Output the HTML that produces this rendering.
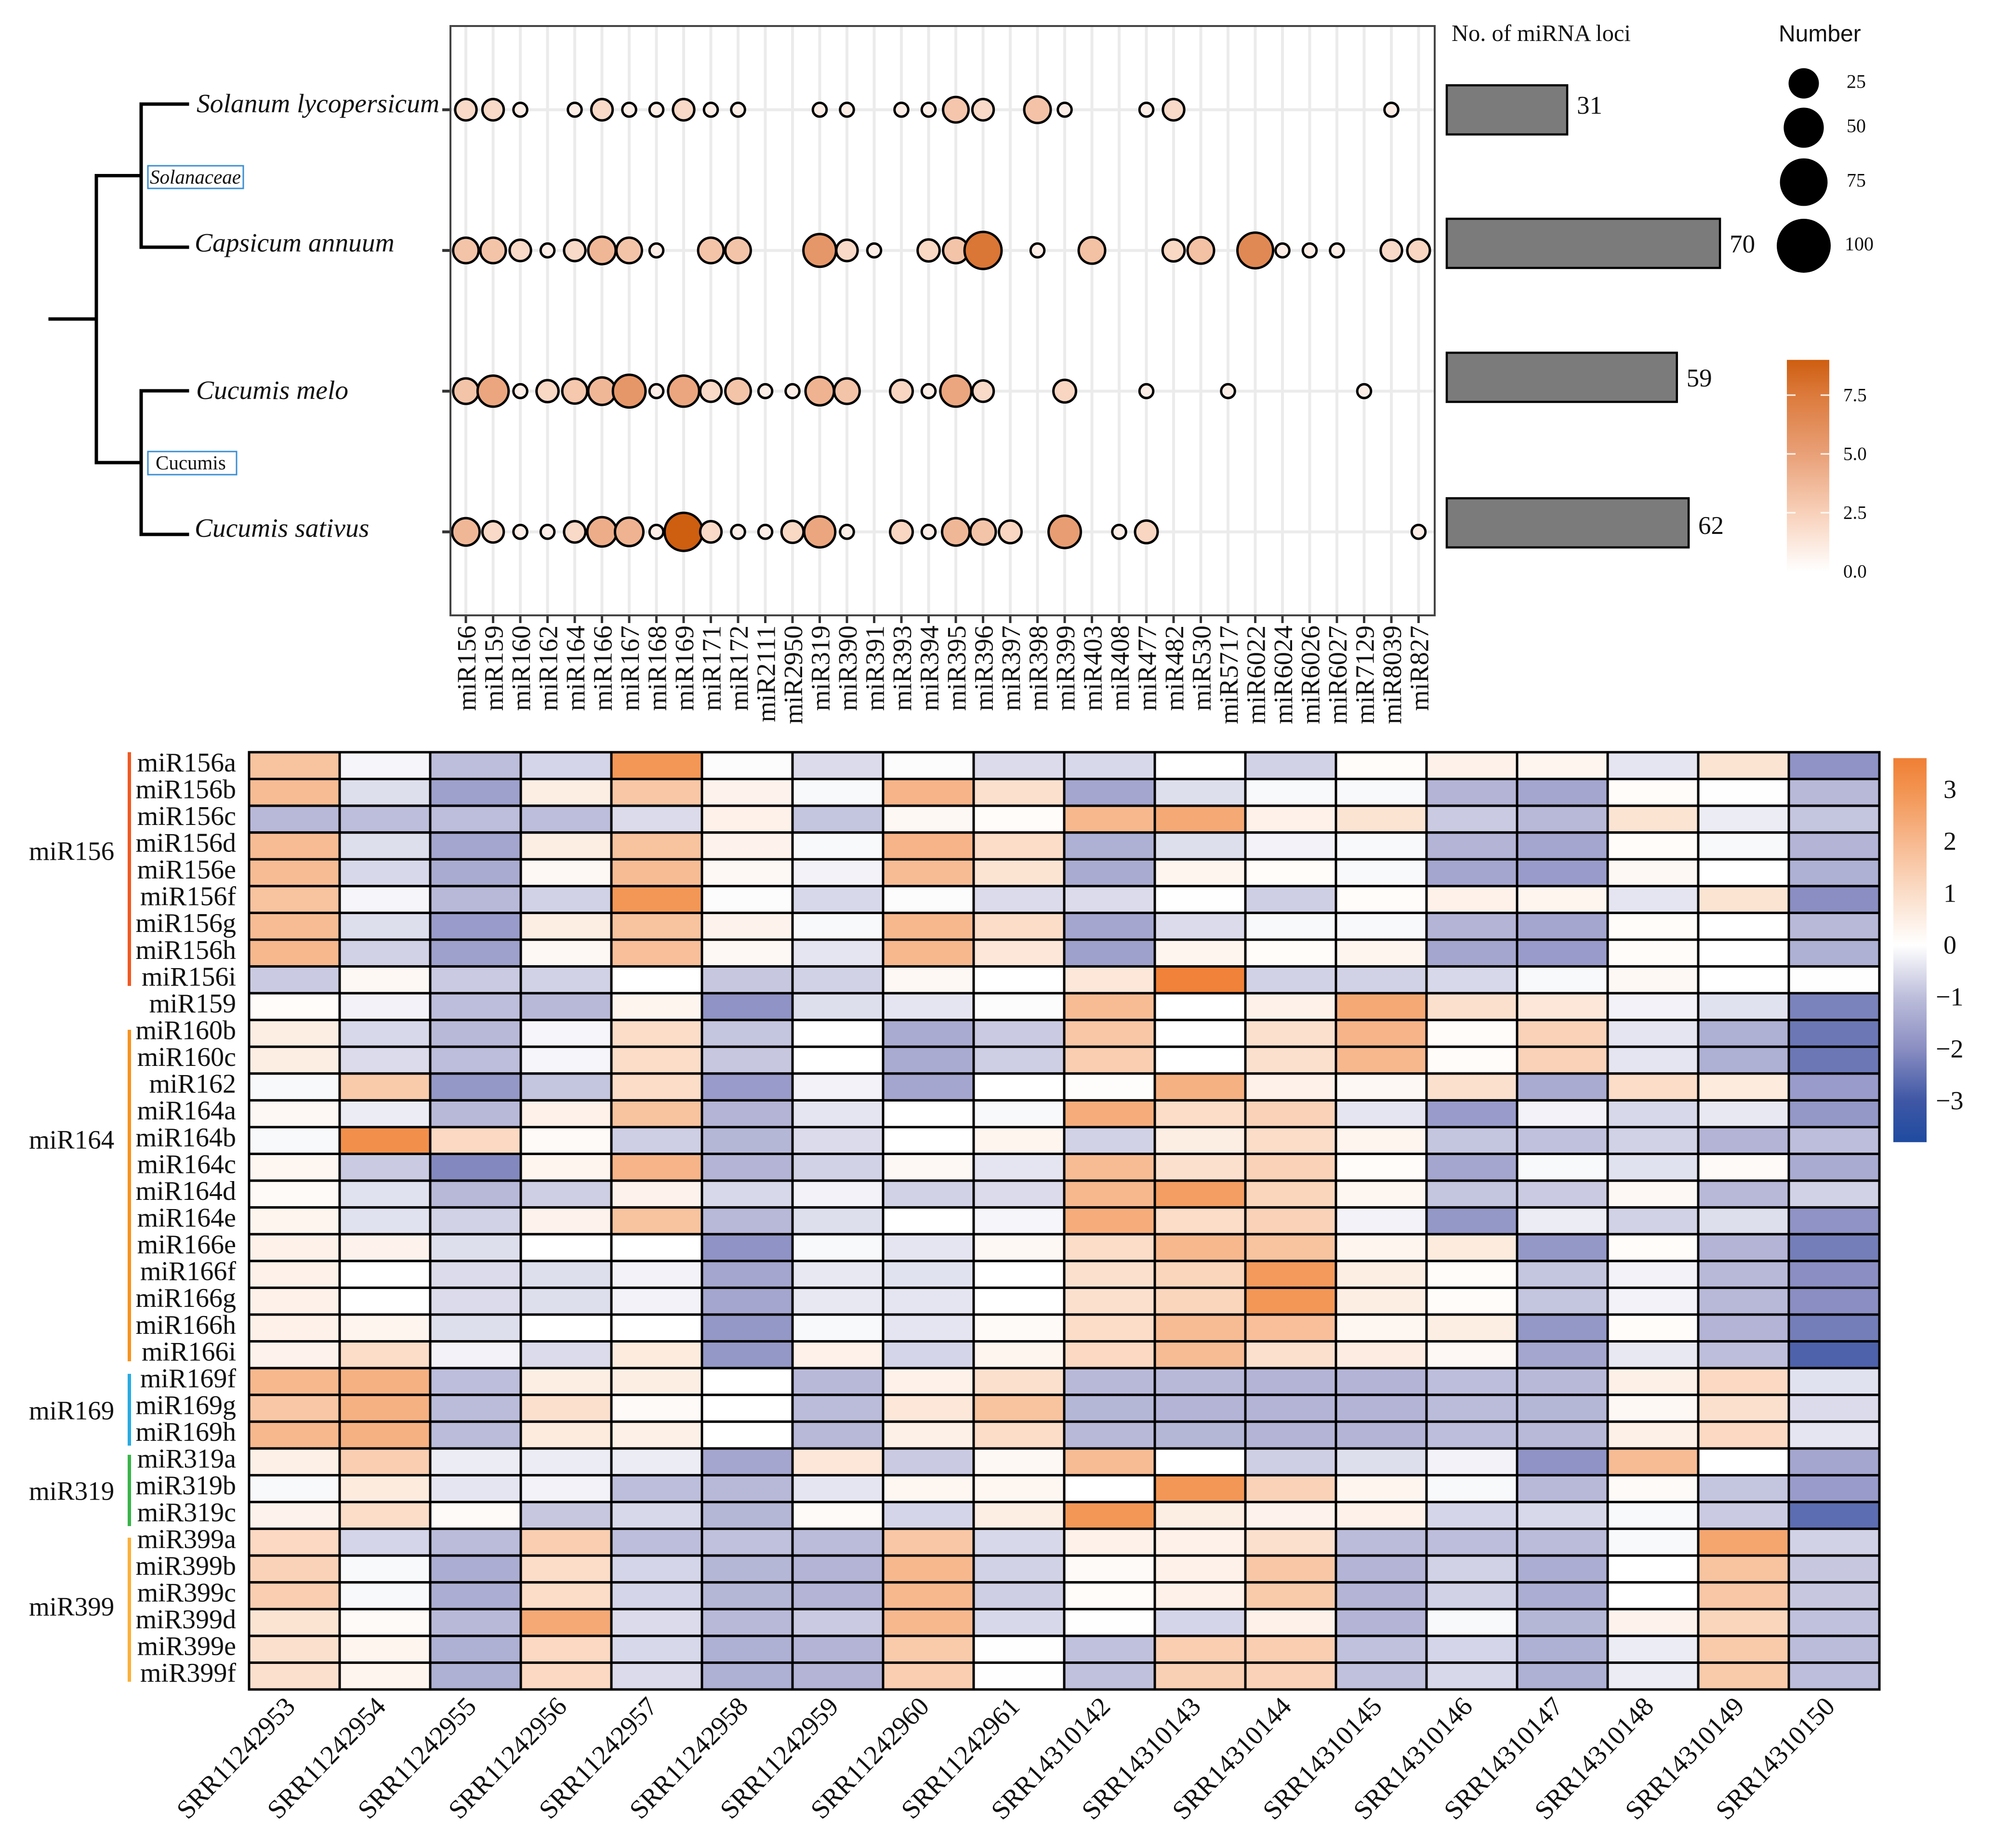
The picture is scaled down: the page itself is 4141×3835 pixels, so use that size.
<!DOCTYPE html>
<html lang="en">
<head>
<meta charset="utf-8">
<title>miRNA family distribution and expression heatmap</title>
<style>
html,body{margin:0;padding:0;background:#fff;}
svg{display:block;}
text{font-family:"Liberation Serif",serif;fill:#111;}
</style>
</head>
<body>
<svg id="figure" xmlns="http://www.w3.org/2000/svg" width="4141" height="3835" viewBox="0 0 4141 3835">
  <defs id="gradient-defs"></defs>
  <rect x="0" y="0" width="4141" height="3835" fill="#fff"/>
  <g id="tree" stroke="#000" stroke-width="7" fill="none" stroke-linecap="square">
    <path d="M104 662H200"/>
    <path d="M200 364.500V960"/>
    <path d="M200 364.500H293M293 216V513M293 216H389M293 513H389"/>
    <path d="M200 960H293M293 811V1109M293 811H389M293 1109H389"/>
  </g>
  <text x="408" y="233" font-size="55.500" font-style="italic">Solanum lycopersicum</text>
  <text x="404" y="522" font-size="55.500" font-style="italic">Capsicum annuum</text>
  <text x="407" y="828" font-size="55.500" font-style="italic">Cucumis melo</text>
  <text x="404" y="1114" font-size="55.500" font-style="italic">Cucumis sativus</text>
  <rect x="307" y="344" width="198" height="47" fill="#fff" stroke="#3B8FD3" stroke-width="3"/>
  <text x="311" y="381" font-size="41" font-style="italic">Solanaceae</text>
  <rect x="307" y="937" width="184" height="48" fill="#fff" stroke="#3B8FD3" stroke-width="3"/>
  <text x="323" y="974" font-size="41">Cucumis</text>
  <g id="bubble-panel"></g>
  <rect x="935" y="54" width="2043" height="1223" fill="none" stroke="#444" stroke-width="4"/>
  <g id="bars"></g>
  <text x="3013" y="85" font-size="48.500">No. of miRNA loci</text>
  <text x="3692" y="86" font-size="48" style="font-family:'Liberation Sans',sans-serif">Number</text>
  <g id="size-legend"></g>
  <g id="bubble-colorbar"></g>
  <g id="heatmap"></g>
  <g id="heat-colorbar"></g>
</svg>
<script>
// ---- bubble chart data ----
const miRnaFamilies = ["miR156","miR159","miR160","miR162","miR164","miR166","miR167","miR168","miR169","miR171","miR172","miR2111","miR2950","miR319","miR390","miR391","miR393","miR394","miR395","miR396","miR397","miR398","miR399","miR403","miR408","miR477","miR482","miR530","miR5717","miR6022","miR6024","miR6026","miR6027","miR7129","miR8039","miR827"];
const speciesKeys = ["solanum","capsicum","melo","sativus"];
const solanumCounts  = [13,13,4,0,4,13,4,4,13,4,4,0,0,4,4,0,4,4,20,13,0,22,4,0,0,4,13,0,0,0,0,0,0,0,4,0];
const capsicumCounts = [20,20,13,4,13,24,20,4,0,20,20,0,0,36,13,4,0,14,20,48,0,4,0,22,0,0,14,22,0,44,4,4,4,0,13,15];
const meloCounts     = [20,32,4,14,19,24,36,4,32,13,20,4,4,26,20,0,15,4,32,13,0,0,15,0,0,4,0,0,4,0,0,0,0,4,0,0];
const sativusCounts  = [24,13,4,4,13,28,26,4,51,13,4,4,14,32,4,0,15,4,24,20,15,0,35,0,4,15,0,0,0,0,0,0,0,0,0,4];
const solanumColor  = [2,2,.9,0,.9,2,.9,.9,2,.9,.9,0,0,.9,.9,0,.9,.9,3,2,0,3.2,.9,0,0,.9,2,0,0,0,0,0,0,0,.9,0];
const capsicumColor = [3.1,3.1,2,.9,2,3.8,3.1,.9,0,3.1,3.1,0,0,5.6,2,.9,0,2.1,3.1,7.7,0,.9,0,3.3,0,0,2.1,3.3,0,6.5,.9,.9,.9,0,2,2.2];
const meloColor     = [3.1,4.7,.9,2.1,2.9,3.8,5.6,.9,4.7,2,3.1,.9,.9,4,3.1,0,2.2,.9,4.7,2,0,0,2.2,0,0,.9,0,0,.9,0,0,0,0,.9,0,0];
const sativusColor  = [3.8,2,.9,.9,2,4.3,4,.9,9,2,.9,.9,2.1,4.7,.9,0,2.2,.9,3.8,3.1,2.2,0,5.2,0,.9,2.2,0,0,0,0,0,0,0,0,0,.9];
// ---- bars ----
const lociCounts = [31,70,59,62];
// ---- legends ----
const sizeLegendValues = [25,50,75,100];
const colorTicks = [0,2.5,5,7.5];
const heatTicks = [3,2,1,0,-1,-2,-3];
// ---- heatmap data ----
const heatSamples = ["SRR11242953","SRR11242954","SRR11242955","SRR11242956","SRR11242957","SRR11242958","SRR11242959","SRR11242960","SRR11242961","SRR14310142","SRR14310143","SRR14310144","SRR14310145","SRR14310146","SRR14310147","SRR14310148","SRR14310149","SRR14310150"];
const heatLabels = ["miR156a","miR156b","miR156c","miR156d","miR156e","miR156f","miR156g","miR156h","miR156i","miR159","miR160b","miR160c","miR162","miR164a","miR164b","miR164c","miR164d","miR164e","miR166e","miR166f","miR166g","miR166h","miR166i","miR169f","miR169g","miR169h","miR319a","miR319b","miR319c","miR399a","miR399b","miR399c","miR399d","miR399e","miR399f"];
const rowsMiR156 = [
[1.7,-.15,-1,-.65,2.9,-.05,-.55,-.05,-.55,-.6,0,-.7,.1,.4,.3,-.4,.8,-1.9],
[1.9,-.5,-1.6,.5,1.6,.35,-.1,2.1,.9,-1.5,-.5,-.1,-.1,-1.2,-1.5,.1,-.02,-1.1],
[-1.1,-1,-1,-1,-.55,.4,-.9,.2,.1,2,2.4,.4,.8,-.8,-1.1,.8,-.3,-.9],
[1.9,-.5,-1.5,.5,1.7,.35,-.1,2.1,1,-1.3,-.5,-.2,-.1,-1.2,-1.5,.1,-.1,-1.2],
[1.9,-.6,-1.4,.2,1.9,.2,-.2,1.9,.8,-1.4,.3,.1,-.1,-1.5,-1.7,.2,0,-1.3],
[1.7,-.15,-1.1,-.7,2.9,-.05,-.6,-.05,-.55,-.55,-.02,-.75,.1,.4,.3,-.4,.8,-2],
[1.9,-.5,-1.7,.5,1.7,.35,-.1,2,1,-1.5,-.55,-.1,-.1,-1.2,-1.5,.1,0,-1.1],
[2,-.7,-1.6,.2,1.8,.2,-.4,2,.7,-1.6,.3,.1,.3,-1.5,-1.7,.1,0,-1.3],
[-.8,.2,-.8,-.7,0,-.85,-.7,.2,0,.7,3.5,-.7,-.7,-.6,-.1,.2,0,-.02]];
const rowsMiR159to162 = [
[.1,-.2,-1,-1.1,.3,-1.9,-.5,-.4,-.05,1.9,0,.4,2.4,.9,.7,-.2,-.45,-2.2],
[.5,-.6,-1.1,-.15,1,-.9,0,-1.4,-.8,1.6,0,.9,2.1,.1,1.3,-.4,-1.3,-2.4],
[.5,-.55,-1,-.15,1,-.85,0,-1.4,-.75,1.4,0,.9,2,.1,1.3,-.4,-1.3,-2.4],
[-.1,1.5,-1.8,-.9,1,-1.7,-.2,-1.5,0,.05,2.2,.4,.2,.9,-1.4,1,.6,-1.7]];
const rowsMiR164 = [
[.2,-.3,-1.1,.4,1.7,-1.2,-.4,0,-.1,2.3,1,1.3,-.4,-1.7,-.2,-.6,-.35,-1.8],
[-.1,3.1,1.1,.15,-.75,-1.15,-.55,0,.3,-.7,.5,1,.3,-.9,-.95,-.7,-1.2,-1],
[.25,-.8,-2.1,.3,2.1,-1.2,-.7,.2,-.4,1.9,.9,1.3,.1,-1.5,-.1,-.45,.15,-1.4],
[.15,-.45,-1.1,-.75,.35,-.6,-.2,-.7,-.55,2,2.7,1.2,.25,-.9,-.8,.2,-1.1,-.7],
[.3,-.45,-.7,.35,1.7,-1.1,-.5,0,-.15,2.3,1,1.3,-.2,-1.8,-.3,-.7,-.5,-1.9]];
const rowsMiR166 = [
[.4,.35,-.5,0,0,-1.9,-.1,-.4,.2,1,2,1.7,.3,.6,-1.8,.1,-1.2,-2.3],
[.4,0,-.55,-.5,-.2,-1.5,-.35,-.45,0,.9,1.2,2.8,.5,.1,-.9,-.2,-1.1,-2],
[.4,0,-.55,-.5,-.2,-1.5,-.35,-.4,0,.9,1.2,2.9,.5,.1,-.9,-.2,-1.1,-2],
[.4,.3,-.5,0,0,-1.8,-.1,-.4,.15,1,1.9,1.8,.25,.5,-1.8,.1,-1.2,-2.3],
[.35,1,-.2,-.55,.6,-1.8,.4,-.65,.3,1.1,1.9,.9,.55,.2,-1.5,-.35,-1,-2.8]];
const rowsMiR169 = [
[2,2.2,-1,.5,.5,0,-1.1,.4,.9,-1.1,-1.1,-1.2,-1.2,-1,-1.1,.45,1.1,-.45],
[1.6,2.2,-1.05,.9,.15,0,-1.05,.7,1.7,-1.15,-1.2,-1.2,-1.2,-1.05,-1.15,.2,.9,-.55],
[2,2.2,-1.05,.6,.45,0,-1.1,.45,1,-1.1,-1.15,-1.2,-1.2,-1,-1.1,.45,1.1,-.4]];
const rowsMiR319 = [
[.45,1.4,-.3,-.3,-.3,-1.5,.7,-.8,.2,1.9,0,-.75,-.5,-.2,-1.9,1.9,0,-1.5],
[-.1,.6,-.4,-.2,-1,-1.1,-.4,.25,.25,0,2.9,1.3,.3,-.1,-1.1,.15,-.9,-1.7],
[.35,1,.15,-.85,-.6,-1.15,.15,-.65,.5,2.9,.5,.35,.4,-.65,-.6,-.1,-.8,-2.6]];
const rowsMiR399 = [
[1.1,-.65,-1.05,1.4,-1,-.95,-1.05,1.6,-.6,.4,.4,.9,-1.05,-1,-1.05,-.1,2.5,-.7],
[1.3,-.1,-1.35,1,-.65,-1.15,-1.2,2,-.7,.15,.4,1.6,-1.2,-.7,-1.35,0,1.7,-.85],
[1.4,-.1,-1.35,1,-.65,-1.15,-1.2,2,-.75,.1,.4,1.5,-1.2,-.7,-1.35,0,1.6,-.85],
[.8,.15,-1.1,2.4,-.55,-1.1,-.8,2,-.6,-.02,-.65,.4,-1.2,-.1,-1.15,.35,1.2,-.95],
[.9,.3,-1.3,1.1,-.6,-1.3,-1.2,1.5,-.02,-.95,1.4,1.4,-.95,-.65,-1.3,-.3,1.5,-1.05],
[.9,.3,-1.3,1.1,-.55,-1.3,-1.2,1.4,-.02,-.95,1.35,1.3,-.95,-.6,-1.3,-.3,1.5,-1]];
const groupNames = ["miR156","miR164","miR169","miR319","miR399"];

// ---- helpers ----
const NS = "http://www.w3.org/2000/svg";
function mk(tag, attrs, parent, txt) {
  const el = document.createElementNS(NS, tag);
  for (const k in attrs) el.setAttribute(k, attrs[k]);
  if (txt !== undefined) el.textContent = txt;
  parent.appendChild(el);
  return el;
}
function hexRgb(h){return [1,3,5].map(function(i){return parseInt(h.substr(i,2),16);});}
function ramp(stops, v) {
  if (v <= stops[0][0]) return stops[0][1];
  for (let i = 1; i < stops.length; i++) {
    if (v <= stops[i][0]) {
      const t = (v - stops[i-1][0]) / (stops[i][0] - stops[i-1][0]);
      const a = hexRgb(stops[i-1][1]), b = hexRgb(stops[i][1]);
      return "rgb(" + a.map(function(c,j){return Math.round(c + (b[j]-c)*t);}).join(",") + ")";
    }
  }
  return stops[stops.length-1][1];
}
const bubbleRamp = [[0,"#FFFFFF"],[2.5,"#F8D0B9"],[5,"#E9A077"],[7.5,"#DC7A3C"],[9,"#CE5E10"]];
const heatRamp = [[-3.8,"#1F4BA0"],[-3,"#3F57A5"],[-2,"#8A8EC2"],[-1,"#BDBEDB"],[0,"#FFFFFF"],[1,"#FBDDC8"],[2,"#F7B88E"],[3,"#F29350"],[3.6,"#F07F34"]];

// ---- bubble panel ----
const bubbleG = document.getElementById("bubble-panel");
const xScale = function(i){return 967 + i * 56.5;};
const yScale = function(i){return 227.7 + i * 292;};
const sizeScale = function(n){return 14 + 9.8 * Math.sqrt(n);};
miRnaFamilies.forEach(function(name, i) {
  const x = xScale(i);
  const grid = mk("line", {x1:x, x2:x, y1:56, y2:1275, stroke:"#EBEBEB", "stroke-width":6}, bubbleG);
  
  
  const tick = mk("line", {x1:x, x2:x, y1:1277, y2:1293, stroke:"#333", "stroke-width":5}, bubbleG);
  
  
  const lab = mk("text", {transform:"translate(" + (x + 2) + ",1298) rotate(-90)", "text-anchor":"end", dy:"0.33em", "font-size":55}, bubbleG, name);
  
  
});
const bubbleCounts = [solanumCounts, capsicumCounts, meloCounts, sativusCounts];
const bubbleColors = [solanumColor, capsicumColor, meloColor, sativusColor];
speciesKeys.forEach(function(sp, r) {
  const y = yScale(r);
  const grid = mk("line", {x1:937, x2:2976, y1:y, y2:y, stroke:"#EBEBEB", "stroke-width":6}, bubbleG);
  
  
  const tick = mk("line", {x1:918, x2:935, y1:y, y2:y, stroke:"#333", "stroke-width":6}, bubbleG);
  
  
});
speciesKeys.forEach(function(sp, r) {
  const counts = bubbleCounts[r], colors = bubbleColors[r];
  counts.forEach(function(n, i) {
    if (n <= 0) return;
    const c = mk("circle", {cx:xScale(i), cy:yScale(r), r:sizeScale(n)/2 - 2.5, fill:ramp(bubbleRamp, colors[i]), stroke:"#000", "stroke-width":5}, bubbleG);
    
    
  });
});

// ---- loci bars ----
const barsG = document.getElementById("bars");
const barScale = function(v){return v * 8.13;};
const barCentreRow = [228, 505, 783, 1085];
const barLabelBaseline = [236, 524, 802, 1108];
lociCounts.forEach(function(v, i) {
  const yc = barCentreRow[i];
  const b = mk("rect", {x:3003, y:yc-51, width:barScale(v)-2, height:102, fill:"#7B7B7B", stroke:"#000", "stroke-width":4.5}, barsG);
  
  
  const t = mk("text", {x:3001 + barScale(v) + 20, y:barLabelBaseline[i], "font-size":53}, barsG, String(v));
  
  
});

// ---- size legend ----
const sizeG = document.getElementById("size-legend");
const legendRowY = [173, 265, 378, 510];
sizeLegendValues.forEach(function(v, i) {
  const c = mk("circle", {cx:3744, cy:legendRowY[i], r:sizeScale(v)/2, fill:"#000"}, sizeG);
  
  
  const t = mk("text", {x:v === 100 ? 3829 : 3833, y:legendRowY[i]-4, "dominant-baseline":"central", "font-size":40}, sizeG, String(v));
  
  
});

// ---- gradients ----
const defs = document.getElementById("gradient-defs");
function buildGrad(id, stops, lo, hi) {
  const g = mk("linearGradient", {id:id, x1:0, y1:1, x2:0, y2:0}, defs);
  stops.forEach(function(s) {
    mk("stop", {offset:(s[0]-lo)/(hi-lo), "stop-color":s[1]}, g);
  });
}
buildGrad("bubbleGrad", bubbleRamp, 0, 9);
buildGrad("heatGrad", heatRamp, -3.8, 3.6);

// ---- bubble colorbar ----
const cbG = document.getElementById("bubble-colorbar");
const cbY = function(v){return 1186 - v * 48.8;};
const cbRect = mk("rect", {x:3709, y:cbY(9), width:88, height:cbY(0)-cbY(9), fill:"url(#bubbleGrad)"}, cbG);


colorTicks.forEach(function(v) {
  const y = cbY(v);
  if (v > 0) {
    const tl = mk("path", {d:"M3709 " + y + "h18M3779 " + y + "h18", stroke:"#fff", "stroke-width":3, opacity:.9}, cbG);
    
    
  }
  const t = mk("text", {x:3826, y:y, "dominant-baseline":"central", "font-size":39}, cbG, v.toFixed(1));
  
  
});

// ---- heatmap ----
const hG = document.getElementById("heatmap");
const heatRows = rowsMiR156.concat(rowsMiR159to162, rowsMiR164, rowsMiR166, rowsMiR169, rowsMiR319, rowsMiR399);
const hX0 = 517, hY0 = 1561, cellW = (3901-517)/18, cellH = (3506-1561)/35;
const hx = function(c){return hX0 + c * cellW;};
const hy = function(r){return hY0 + r * cellH;};
heatRows.forEach(function(row, r) {
  row.forEach(function(v, c) {
    const cell = mk("rect", {x:hx(c), y:hy(r), width:cellW, height:cellH, fill:ramp(heatRamp, v), stroke:"#000", "stroke-width":5}, hG);
    
    
  });
  const lab = mk("text", {x:490, y:hy(r) + cellH/2 - 6, "text-anchor":"end", "dominant-baseline":"central", "font-size":56}, hG, heatLabels[r]);
  
  
});
heatSamples.forEach(function(s, c) {
  const x = hx(c) + cellW/2 - 8;
  const lab = mk("text", {transform:"translate(" + x + ",3532) rotate(-46)", "text-anchor":"end", "dominant-baseline":"central", "font-size":55.5}, hG, s);
  
  
});
const groupBarTop = [1561, 2137, 2851, 3019, 3191];
const groupBarBottom = [2046, 2825, 3000, 3167, 3490];
const groupBarColor = ["#F15A22","#F7931E","#29ABE2","#39B54A","#FBB03B"];
const groupLabelY = [1766, 2365, 2927, 3094, 3334];
groupNames.forEach(function(g, i) {
  const bar = mk("rect", {x:265, y:groupBarTop[i], width:7, height:groupBarBottom[i]-groupBarTop[i], fill:groupBarColor[i]}, hG);
  
  
  const t = mk("text", {x:60, y:groupLabelY[i], "dominant-baseline":"central", "font-size":55}, hG, g);
  
  
});

// ---- heatmap colorbar ----
const hcG = document.getElementById("heat-colorbar");
const hcY = function(v){return 1961 - v * 107.7;};
const hcRect = mk("rect", {x:3930, y:hcY(3.6), width:69, height:hcY(-3.8)-hcY(3.6), fill:"url(#heatGrad)"}, hcG);


heatTicks.forEach(function(v) {
  const label = v < 0 ? "\u2212" + Math.abs(v) : String(v);
  const t = mk("text", {x:v < 0 ? 4018 : 4034, y:hcY(v), "dominant-baseline":"central", "font-size":54}, hcG, label);
  
  
});
</script>
</body>
</html>
